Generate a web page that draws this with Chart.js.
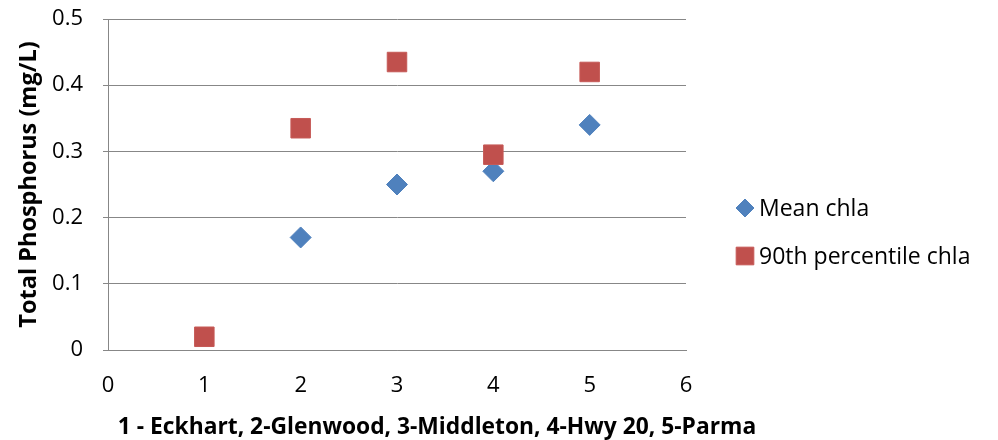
<!DOCTYPE html>
<html>
<head>
<meta charset="utf-8">
<script src="https://cdn.jsdelivr.net/npm/chart.js@4/dist/chart.umd.min.js"></script>
<style>
  html, body { margin: 0; padding: 0; background: #ffffff; }
  #wrap { width: 998px; height: 440px; }
</style>
</head>
<body>
<div id="wrap"><canvas id="c" width="998" height="440"></canvas></div>
<script>
// Site numbers along the x axis and the two chlorophyll-a phosphorus series
const siteNumbers = [1, 2, 3, 4, 5];
const meanChla = [null, 0.17, 0.25, 0.27, 0.34];
const p90Chla = [0.02, 0.335, 0.435, 0.295, 0.42];
const xTicks = [0, 1, 2, 3, 4, 5, 6];
const yTicks = [0, 0.1, 0.2, 0.3, 0.4, 0.5];
const seriesNames = ['Mean chla', '90th percentile chla'];
const xTitle = '1 - Eckhart, 2-Glenwood, 3-Middleton, 4-Hwy 20, 5-Parma';
const yTitle = 'Total Phosphorus (mg/L)';

const FONT = '"Open Sans", Carlito, Calibri, sans-serif';
const GRID = '#878787';
const BLUE = '#4f81bd';
const RED = '#c0504d';

const toPoints = (xs, ys) => xs.map((x, i) => ({ x: x, y: ys[i] })).filter(p => p.y !== null);

// Legend to the right of the plot, using each dataset's own marker style,
// plus the x-axis caption centred under the whole chart
const sideLegend = {
  id: 'sideLegend',
  afterDraw(chart) {
    const ctx = chart.ctx;
    const x0 = 745, textX = 759, rows = [208, 256];
    ctx.save();
    ctx.font = '23px ' + FONT;
    ctx.textBaseline = 'middle';
    ctx.textAlign = 'left';
    chart.data.datasets.forEach((ds, i) => {
      const y = rows[i];
      ctx.fillStyle = ds.backgroundColor;
      ctx.strokeStyle = ds.borderColor;
      ctx.lineWidth = 1;
      Chart.helpers.drawPoint(ctx, {
        pointStyle: ds.pointStyle,
        radius: ds.legendRadius,
        borderWidth: 1,
        rotation: 0
      }, x0, y);
      ctx.fillStyle = '#000000';
      ctx.fillText(ds.label, textX, y + 1);
    });

    ctx.font = 'bold 22.8px ' + FONT;
    ctx.textAlign = 'center';
    ctx.fillText(xTitle, 437, 428);
    ctx.restore();
  }
};

new Chart(document.getElementById('c'), {
  type: 'scatter',
  data: {
    datasets: [
      {
        label: seriesNames[0],
        data: toPoints(siteNumbers, meanChla),
        pointStyle: 'rectRot',
        pointRadius: 10.5,
        pointHoverRadius: 10.5,
        backgroundColor: BLUE,
        borderColor: BLUE,
        borderWidth: 1,
        legendRadius: 9,
        order: 1
      },
      {
        label: seriesNames[1],
        data: toPoints(siteNumbers, p90Chla),
        pointStyle: 'rect',
        pointRadius: 13.8,
        pointHoverRadius: 13.8,
        backgroundColor: RED,
        borderColor: '#c65a57',
        borderWidth: 1,
        legendRadius: 12.5,
        order: 0
      }
    ]
  },
  options: {
    responsive: false,
    animation: false,
    devicePixelRatio: 1,
    layout: { padding: { left: 0, top: 19, right: 312, bottom: 0 } },
    plugins: {
      legend: { display: false },
      tooltip: { enabled: false }
    },
    scales: {
      x: {
        type: 'linear',
        min: 0,
        max: 6,
        afterBuildTicks: s => { s.ticks = xTicks.map(v => ({ value: v })); },
        afterFit: s => { s.height = 90; s.paddingLeft = 0; s.paddingRight = 0; },
        grid: { display: false, drawTicks: false },
        border: { display: true, color: GRID, width: 1 },
        ticks: {
          color: '#000000',
          font: { family: FONT, size: 22 },
          padding: 23,
          maxRotation: 0,
          callback: v => String(v)
        }
      },
      y: {
        type: 'linear',
        min: 0,
        max: 0.5,
        afterBuildTicks: s => { s.ticks = yTicks.map(v => ({ value: v })); },
        afterFit: s => { s.width = 108; s.paddingTop = 0; s.paddingBottom = 0; },
        grid: { display: true, color: GRID, lineWidth: 1, drawTicks: true, tickLength: 5 },
        border: { display: true, color: GRID, width: 1 },
        ticks: {
          color: '#000000',
          font: { family: FONT, size: 22 },
          padding: 20,
          callback: v => String(Math.round(v * 10) / 10)
        },
        title: {
          display: true,
          text: yTitle,
          color: '#000000',
          font: { family: FONT, size: 23.5, weight: 'bold' },
          padding: { top: 15.5, bottom: 0 }
        }
      }
    }
  },
  plugins: [sideLegend]
});
</script>
</body>
</html>
